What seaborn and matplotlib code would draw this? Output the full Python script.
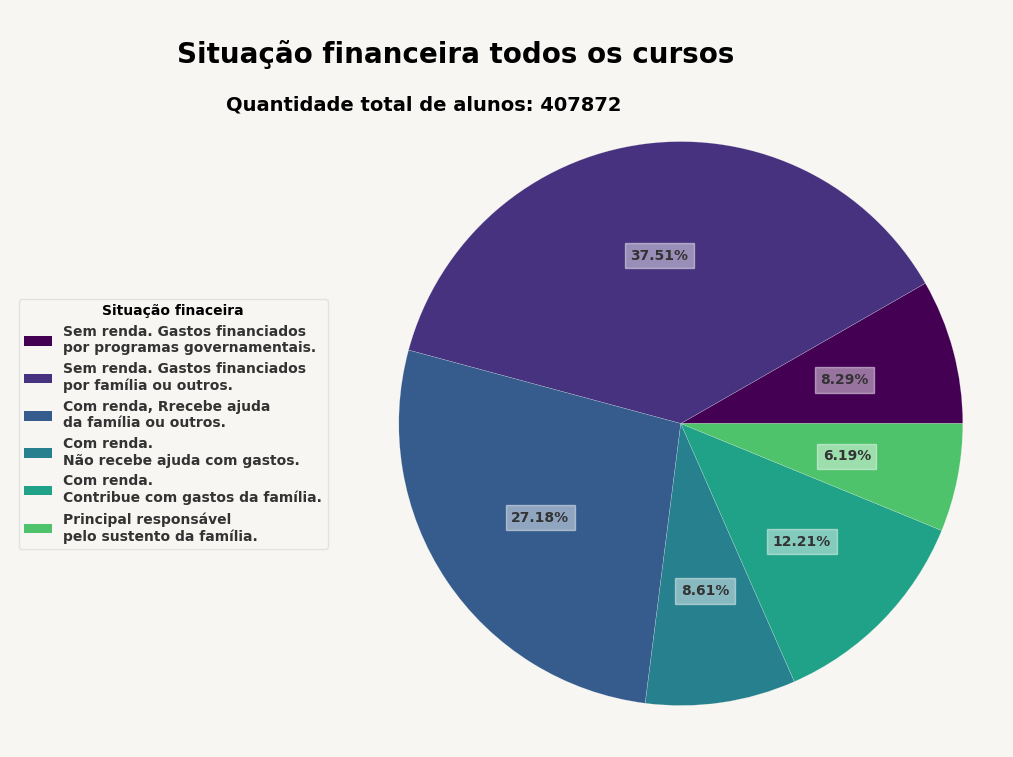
import numpy as np
import matplotlib
matplotlib.use("Agg")
import matplotlib.pyplot as plt
import seaborn as sns

# Financial situation of students (share of total)
categorias = [
    "Sem renda. Gastos financiados\npor programas governamentais.",
    "Sem renda. Gastos financiados\npor família ou outros.",
    "Com renda, Rrecebe ajuda\nda família ou outros.",
    "Com renda.\nNão recebe ajuda com gastos.",
    "Com renda.\nContribue com gastos da família.",
    "Principal responsável\npelo sustento da família.",
]
percentuais = [8.29, 37.51, 27.18, 8.61, 12.21, 6.19]
total_alunos = 407872

sns.set_theme(style="white")
bg = "#f7f6f3"
cores = plt.cm.viridis(np.linspace(0, 0.72, len(percentuais)))

fig = plt.figure(figsize=(10.13, 7.57), dpi=100, facecolor=bg)
ax = fig.add_axes([0.3937, 0.068, 0.5567, 0.745])
ax.set_facecolor(bg)

wedges, texts, autotexts = ax.pie(
    percentuais,
    colors=cores,
    startangle=0,
    autopct="%.2f%%",
    pctdistance=0.6,
    wedgeprops=dict(edgecolor=(1, 1, 1, 0.4), linewidth=0.3),
    textprops=dict(fontsize=10, fontweight="bold", color="#333333"),
)
for t in autotexts:
    t.set_bbox(dict(facecolor="white", alpha=0.45, edgecolor="white", boxstyle="square,pad=0.4"))
ax.set_xlim(-1, 1)
ax.set_ylim(-1, 1)
ax.set_aspect("equal")

fig.text(0.45, 0.928, "Situação financeira todos os cursos",
         ha="center", va="center", fontsize=20, fontweight="bold", color="black")
fig.text(0.418, 0.861, f"Quantidade total de alunos: {total_alunos}",
         ha="center", va="center", fontsize=14, fontweight="bold", color="black")

leg = ax.legend(
    wedges, categorias,
    title="Situação finaceira",
    loc="center left",
    bbox_to_anchor=(0.0116, 0.44),
    bbox_transform=fig.transFigure,
    frameon=True,
    facecolor=bg,
    edgecolor="#dddddd",
    prop=dict(size=10, weight="bold"),
    labelspacing=0.5,
)
leg.get_title().set_fontweight("bold")
leg.get_title().set_fontsize(10)
leg.get_title().set_color("black")
for txt in leg.get_texts():
    txt.set_color("#333333")
for h in leg.legend_handles:
    h.set_edgecolor("none")

fig.savefig("out.png", dpi=100, facecolor=bg)
